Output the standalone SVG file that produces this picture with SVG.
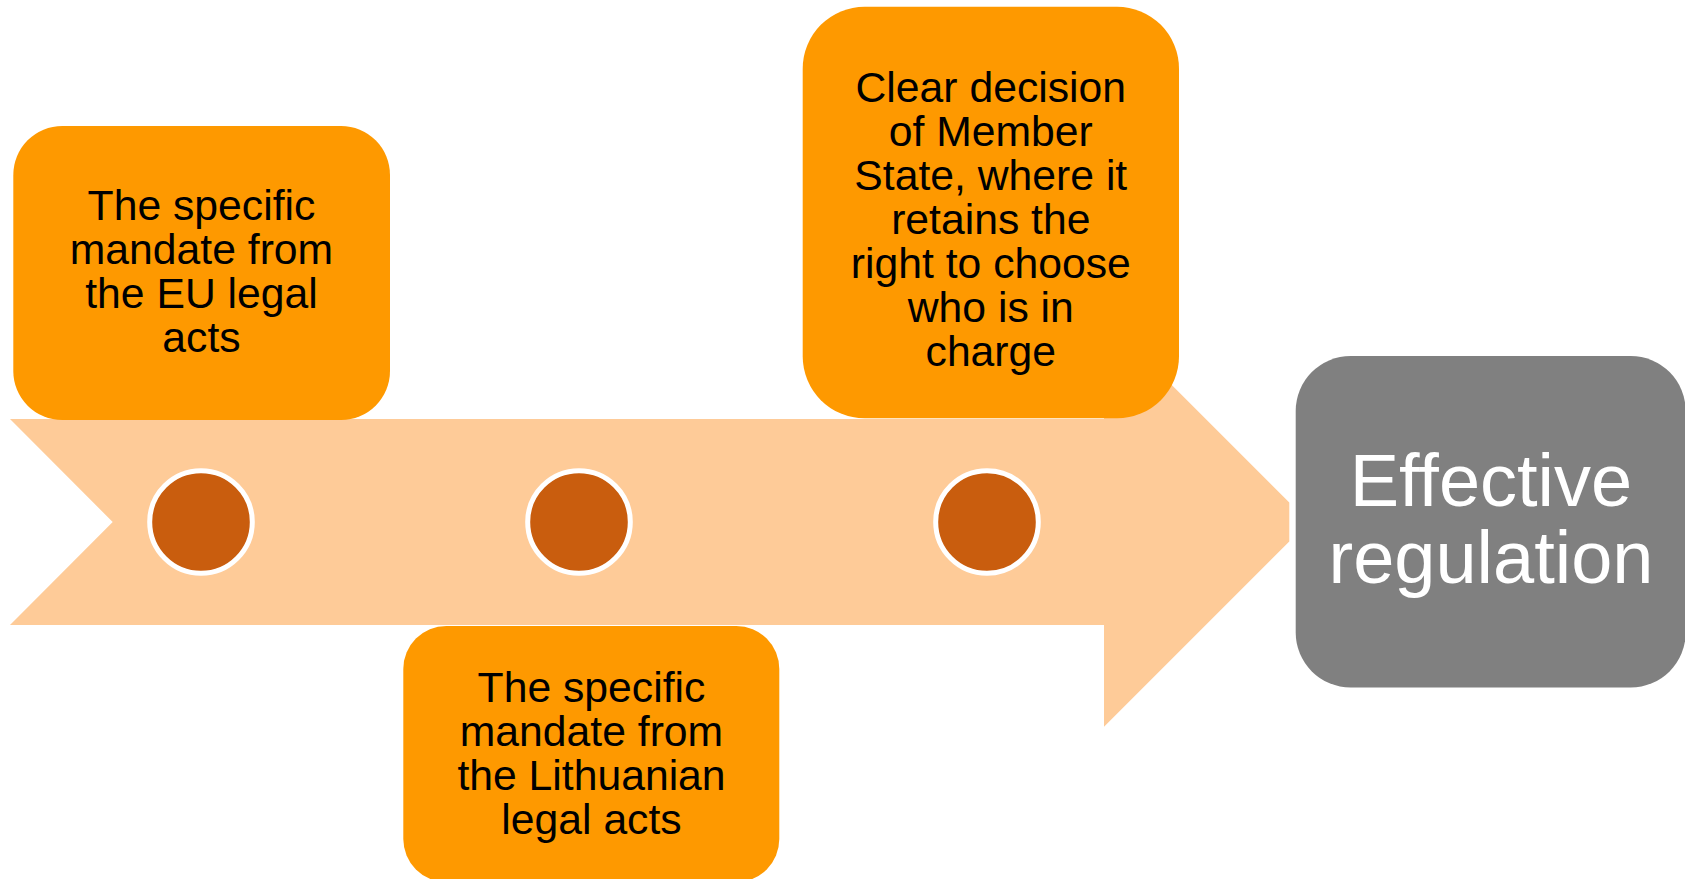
<svg xmlns="http://www.w3.org/2000/svg" width="1685" height="879" viewBox="0 0 1685 879">
  <style>
    .box { fill: #FE9900; }
    .lbl { font-family: "Liberation Sans", Arial, sans-serif; font-size: 42.7px; fill: #000; text-anchor: middle; }
    .big { font-family: "Liberation Sans", Arial, sans-serif; font-size: 74px; fill: #fff; text-anchor: middle; }
    .dot { fill: #C95D0E; stroke: #fff; stroke-width: 5; }
  </style>
  <rect width="1685" height="879" fill="#fff"/>
  <g id="connectors">
    <polygon id="timeline-arrow" fill="#FECB98" points="10,419 1104,419 1104,317.3 1289.3,502.6 1289.3,541.4 1104,726.7 1104,625 10,625 112.7,522"/>
  </g>
  <g id="dot1"><circle class="dot" cx="201" cy="522" r="51.3"/></g>
  <g id="dot2"><circle class="dot" cx="579" cy="522" r="51.3"/></g>
  <g id="dot3"><circle class="dot" cx="987" cy="522" r="51.3"/></g>
  <g id="node-eu">
    <rect class="box" x="13.3" y="126" width="376.7" height="294" rx="49" ry="49"/>
    <text class="lbl" x="201.5" y="220">The specific</text>
    <text class="lbl" x="201.5" y="264">mandate from</text>
    <text class="lbl" x="201.5" y="308">the EU legal</text>
    <text class="lbl" x="201.5" y="352">acts</text>
  </g>
  <g id="node-lt">
    <rect class="box" x="403.3" y="626" width="376" height="256" rx="43" ry="43"/>
    <text class="lbl" x="591.5" y="702">The specific</text>
    <text class="lbl" x="591.5" y="746">mandate from</text>
    <text class="lbl" x="591.5" y="790">the Lithuanian</text>
    <text class="lbl" x="591.5" y="834">legal acts</text>
  </g>
  <g id="node-ms">
    <rect class="box" x="802.7" y="6.7" width="376.3" height="411.6" rx="62" ry="62"/>
    <text class="lbl" x="990.8" y="102">Clear decision</text>
    <text class="lbl" x="990.8" y="146">of Member</text>
    <text class="lbl" x="990.8" y="190">State, where it</text>
    <text class="lbl" x="990.8" y="234">retains the</text>
    <text class="lbl" x="990.8" y="278">right to choose</text>
    <text class="lbl" x="990.8" y="322">who is in</text>
    <text class="lbl" x="990.8" y="366">charge</text>
  </g>
  <g id="node-result">
    <rect x="1295.7" y="356" width="390" height="331.5" rx="55" ry="55" fill="#808080"/>
    <text class="big" x="1491" y="506">Effective</text>
    <text class="big" x="1491" y="583">regulation</text>
  </g>
</svg>
